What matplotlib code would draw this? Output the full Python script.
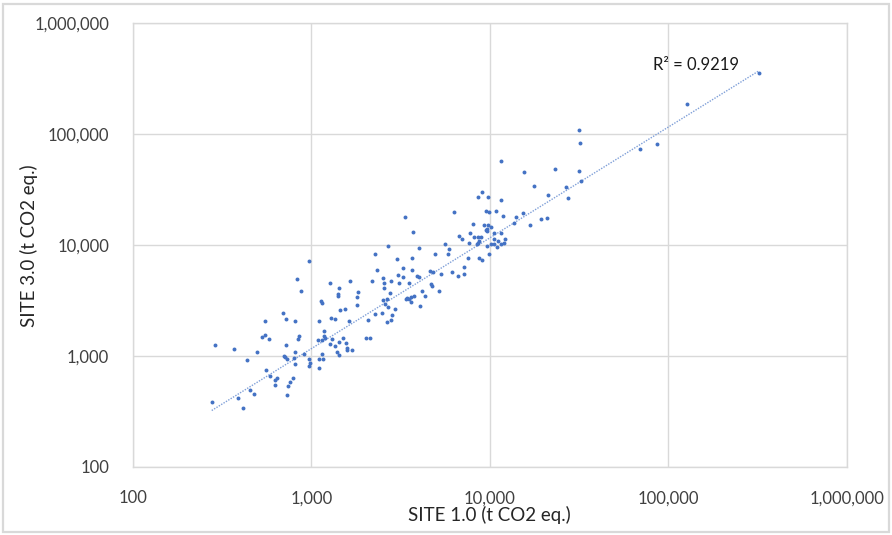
import numpy as np
import matplotlib
matplotlib.use("Agg")
from matplotlib import pyplot as plt
from matplotlib.patches import Rectangle
from matplotlib.ticker import FuncFormatter, FixedLocator, NullLocator

# emissions per site, t CO2 eq.
site1 = [975, 835, 875, 1270, 1430, 1130, 1150, 1405, 1410, 1440,
         692, 724, 807, 551, 1100, 1290, 1360, 1180, 551, 532,
         577, 857, 846, 1180, 1200, 1090, 1150, 1310, 1430, 1280,
         1350, 288, 368, 724, 495, 814, 1390, 1430, 910, 706,
         715, 728, 803, 435, 970, 1100, 1170, 1150, 983, 975,
         807, 1100, 558, 585, 640, 629, 790, 760, 743, 626,
         456, 476, 728, 390, 277, 416,
         9070, 8550, 9800, 9510, 9850, 6320, 3360, 8010, 9230, 9600,
         9670, 3700, 6710, 7770, 8150, 8610, 8920, 7010, 8660, 8550,
         8440, 7610, 9600, 5610, 2680, 4010, 5930, 2270, 4930, 5800,
         9920, 3020, 3650, 8690, 9000, 7510, 3270, 2320, 3650, 4640,
         4800, 7190, 6140, 5320, 3060, 3260, 3920, 4030, 2530, 2810,
         2190, 6650, 7190, 1650, 2560, 3110, 3510, 4660, 4740, 2560,
         1830, 2770, 4170, 5170, 1800, 3750, 4350, 3420, 3390, 3520,
         3630, 2530, 2640, 2580, 3630, 2690, 1810, 4060, 1540, 2940,
         2840, 2500, 2270, 2070, 1630, 2780, 2640, 2020, 2120, 1510,
         1560, 1590, 1580, 1690,
         31700, 32000, 11600, 15500, 23100, 31500, 32300, 17700, 26700, 11600,
         21100, 27500, 10800, 15300, 11800, 14000, 19300, 20800, 13700, 16700,
         9760, 10200, 9510, 10600, 11500, 10500, 11100, 12200, 12000, 11600,
         10500, 10100, 11000,
         322000, 127000, 86200, 69200]

site3 = [7220, 4970, 3850, 4570, 4120, 3140, 3020, 3590, 3470, 2590,
         2440, 2140, 2080, 2080, 2050, 2210, 2140, 1690, 1540, 1490,
         1430, 1510, 1410, 1500, 1450, 1400, 1400, 1410, 1330, 1280,
         1220, 1240, 1150, 1260, 1080, 1090, 1090, 1020, 1040, 997,
         970, 937, 950, 923, 943, 931, 931, 1040, 867, 810,
         844, 782, 745, 654, 631, 609, 627, 577, 535, 549,
         492, 450, 446, 419, 384, 336,
         30300, 27100, 27300, 20300, 20000, 19700, 17800, 15600, 15100, 13900,
         13400, 13000, 12100, 12700, 11900, 11900, 11900, 11300, 10800, 10400,
         10200, 10400, 9860, 10200, 9790, 9460, 9150, 8290, 8290, 8290,
         8350, 7520, 7590, 7590, 7320, 7590, 6240, 5990, 5910, 5830,
         5710, 6290, 5740, 5510, 5360, 5110, 5220, 5110, 5040, 4760,
         4730, 5250, 5440, 4730, 4510, 4510, 4510, 4420, 4290, 4090,
         3790, 3710, 3850, 3850, 3400, 3470, 3470, 3350, 3240, 3280,
         3380, 3190, 3260, 2940, 3080, 2780, 2860, 2840, 2630, 2650,
         2350, 2420, 2400, 2090, 2050, 2120, 2020, 1450, 1450, 1460,
         1300, 1180, 1130, 1130,
         109000, 83200, 56900, 45600, 48800, 46500, 38000, 34100, 33600, 25600,
         28100, 26600, 20300, 19600, 18200, 17800, 17100, 17400, 15900, 15100,
         15300, 14500, 13700, 12800, 12700, 11300, 10900, 11300, 10400, 10300,
         10200, 10200, 9590,
         358000, 186000, 82000, 73000]

# power trendline y = k * x^p, as shown in the chart
trend_k = 1.16
trend_p = 1.0
r2_text = "R\u00b2 = 0.9219"

ticks = [100, 1000, 10000, 100000, 1000000]

x = np.array(site1, dtype=float)
y = np.array(site3, dtype=float)

plt.rcParams["font.family"] = ["Lato", "DejaVu Sans"]

W, H = 892, 535
fig = plt.figure(figsize=(W / 100, H / 100), dpi=100)
ax = fig.add_axes([132.7 / W, 1 - 466.7 / H, (847 - 132.7) / W, (466.7 - 23.3) / H])

# chart border
fig.patches.append(Rectangle((3 / W, 3 / H), 886 / W, 528 / H, transform=fig.transFigure,
                             fill=False, edgecolor="#d9d9d9", lw=1.6))

ax.set_xscale("log")
ax.set_yscale("log")
ax.set_xlim(100, 1000000)
ax.set_ylim(100, 1000000)

ax.scatter(x, y, s=8, color="#4472C4", zorder=3, linewidths=0)

xf = np.array([x.min(), x.max()])
ax.plot(xf, trend_k * xf ** trend_p, linestyle=(0, (1, 1)), lw=1.0,
        color="#7f9fd8", zorder=2)

fig.text(653 / W, 1 - 65 / H, r2_text, fontsize=12, color="#1a1a1a",
         ha="left", va="center")

fmt = FuncFormatter(lambda v, p: f"{int(round(v)):,}")
for axis in (ax.xaxis, ax.yaxis):
    axis.set_major_locator(FixedLocator(ticks))
    axis.set_minor_locator(NullLocator())
    axis.set_major_formatter(fmt)

ax.tick_params(axis="both", length=0, labelsize=12, labelcolor="#404040")
ax.tick_params(axis="y", pad=17)
ax.tick_params(axis="x", pad=17)
ax.grid(True, color="#d9d9d9", lw=1.0)
ax.set_axisbelow(True)
for s in ax.spines.values():
    s.set_color("#d9d9d9")
    s.set_linewidth(1.0)

ax.set_xlabel("SITE 1.0 (t CO2 eq.)", fontsize=13.5, color="#262626")
ax.xaxis.set_label_coords(0.4988, -0.109)
ax.xaxis.label.set_verticalalignment("center")
ax.set_ylabel("SITE 3.0 (t CO2 eq.)", fontsize=13.5, color="#262626")
ax.yaxis.set_label_coords(-0.1452, 0.4977)
ax.yaxis.label.set_verticalalignment("center")

fig.savefig("out.png", dpi=100)
